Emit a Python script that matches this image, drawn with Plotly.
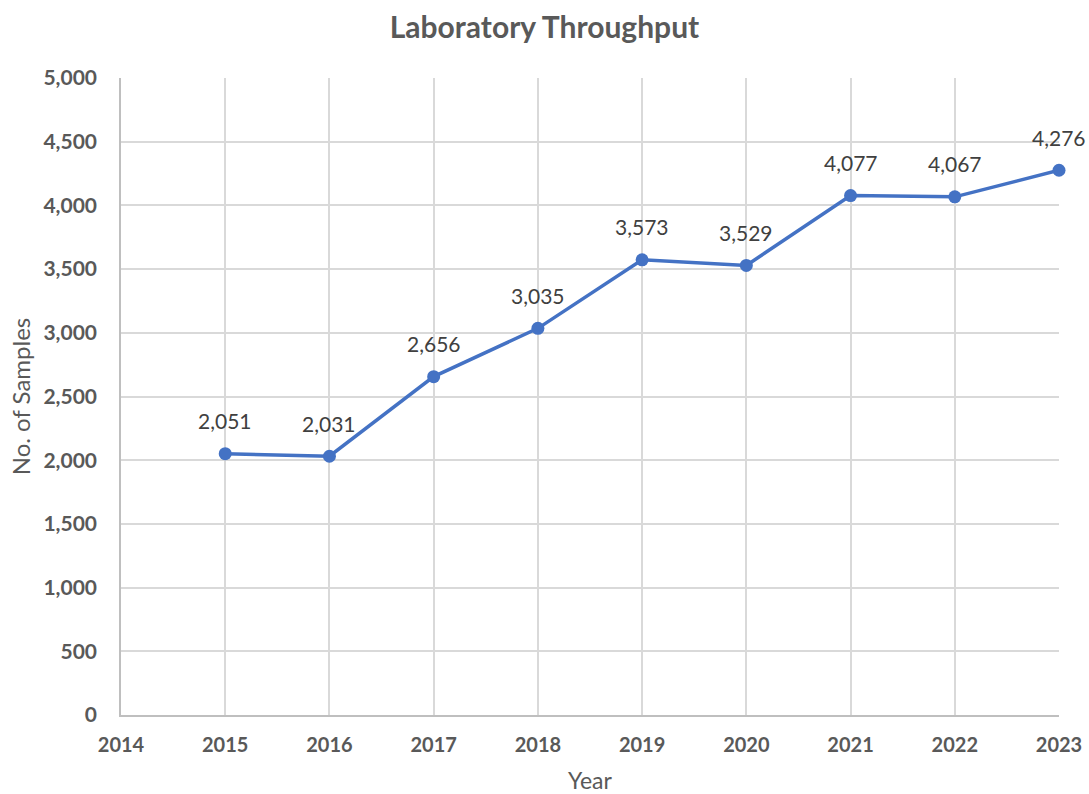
import plotly.graph_objects as go

years = [2015, 2016, 2017, 2018, 2019, 2020, 2021, 2022, 2023]
samples = [2051, 2031, 2656, 3035, 3573, 3529, 4077, 4067, 4276]
x_ticks = list(range(2014, 2024))
y_ticks = list(range(0, 5001, 500))

FONT = "Lato, 'Open Sans', sans-serif"
fig = go.Figure()
fig.add_trace(go.Scatter(
    x=years, y=samples, mode="lines+markers",
    line=dict(color="#4472C4", width=3.5),
    marker=dict(color="#4472C4", size=13),
    cliponaxis=False, hoverinfo="skip", showlegend=False,
))
for xv, yv in zip(years, samples):
    fig.add_annotation(x=xv, y=yv, text=f"{yv:,}", showarrow=False,
                       yshift=33, font=dict(family=FONT, size=21, color="#404040"))

fig.update_layout(
    width=1089, height=794,
    margin=dict(l=121, r=30, t=78, b=79, autoexpand=False),
    paper_bgcolor="white", plot_bgcolor="white",
    title=dict(text="<b>Laboratory Throughput</b>", x=0.5, xref="container", xanchor="center",
               y=0.965, yref="container", yanchor="middle",
               font=dict(family=FONT, size=30, color="#595959")),
    font=dict(family=FONT, color="#595959"),
)
fig.update_xaxes(
    range=[2014, 2023], tickvals=x_ticks, ticktext=[f"<b>{t}</b>" for t in x_ticks],
    showgrid=True, gridcolor="#d9d9d9", gridwidth=1.5,
    showline=True, linecolor="#bfbfbf", linewidth=1.5,
    ticks="", ticklabelstandoff=11, automargin=False,
    tickfont=dict(family=FONT, size=20, color="#595959"),
    title=dict(text="Year", font=dict(family=FONT, size=23, color="#595959"), standoff=25),
    zeroline=False,
)
fig.update_yaxes(
    range=[0, 5000], tickvals=y_ticks, ticktext=[f"<b>{t:,}</b>" for t in y_ticks],
    showgrid=True, gridcolor="#d9d9d9", gridwidth=1.5,
    showline=True, linecolor="#bfbfbf", linewidth=1.5,
    ticks="", ticklabelstandoff=18, automargin=False,
    tickfont=dict(family=FONT, size=21, color="#595959"),
    title=dict(text="No. of Samples", font=dict(family=FONT, size=24, color="#595959"), standoff=6),
    zeroline=False,
)
fig.write_html("out.html", config={"displayModeBar": False},
               post_script="document.body.style.margin='0';")
